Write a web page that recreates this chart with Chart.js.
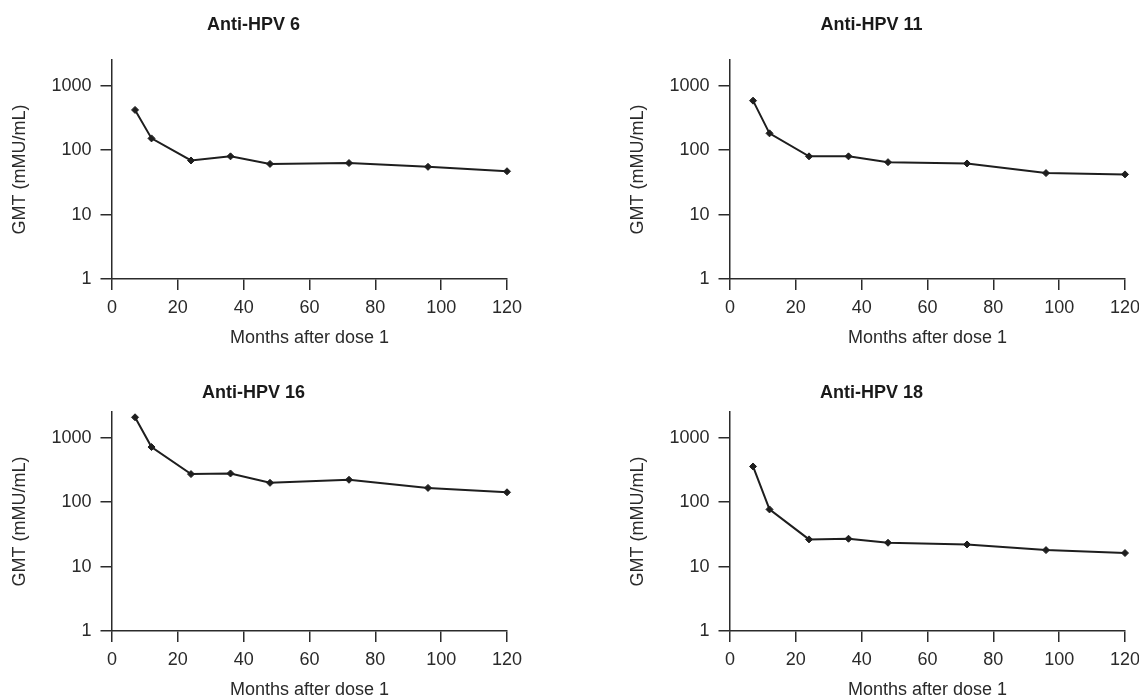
<!DOCTYPE html>
<html>
<head>
<meta charset="utf-8">
<script src="https://cdn.jsdelivr.net/npm/chart.js@4"></script>
<style>
    body { margin: 0; background: #fff; overflow: hidden; width: 1139px; height: 698px; position: relative; }
    canvas { position: absolute; }
</style>
</head>
<body>
<canvas id="hpv6" width="540" height="350" style="left:0px;top:0px"></canvas>
<canvas id="hpv11" width="540" height="350" style="left:618px;top:0px"></canvas>
<canvas id="hpv16" width="540" height="350" style="left:0px;top:352px"></canvas>
<canvas id="hpv18" width="540" height="350" style="left:618px;top:352px"></canvas>
<script>
const meses = [7, 12, 24, 36, 48, 72, 96, 120];
const gmtHpv6 = [420, 152, 69, 80, 61, 63, 55, 47];
const gmtHpv11 = [585, 182, 80, 80, 65, 62, 44, 42];
const gmtHpv16 = [2070, 715, 272, 278, 199, 222, 166, 142];
const gmtHpv18 = [357, 77, 26.4, 27, 23.4, 22, 18, 16.2];
const ticksY = [1, 10, 100, 1000];
const ticksX = [0, 20, 40, 60, 80, 100, 120];

const corEixo = '#2b2b2b';
const fonte = 'Arial, "Liberation Sans", sans-serif';

function criarGrafico(id, titulo, valores, tituloTopo) {
    const ctx = document.getElementById(id).getContext('2d');
    new Chart(ctx, {
        type: 'line',
        data: {
            datasets: [{
                data: meses.map((m, i) => ({ x: m, y: valores[i] })),
                borderColor: '#1e1e1e',
                backgroundColor: '#1e1e1e',
                borderWidth: 2,
                tension: 0,
                clip: false,
                pointStyle: 'rectRot',
                pointRadius: 3.5,
                pointBorderWidth: 1
            }]
        },
        options: {
            responsive: false,
            animation: false,
            devicePixelRatio: 1,
            layout: { padding: { left: 0, right: 33, top: 0, bottom: 0 } },
            plugins: {
                legend: { display: false },
                tooltip: { enabled: false },
                title: {
                    display: true,
                    text: titulo,
                    color: '#1a1a1a',
                    font: { family: fonte, size: 18, weight: 'bold', lineHeight: 1.2 },
                    padding: { top: tituloTopo, bottom: 60 - tituloTopo - 21.6 }
                }
            },
            scales: {
                x: {
                    type: 'linear',
                    min: 0,
                    max: 120,
                    afterBuildTicks: s => { s.ticks = ticksX.map(v => ({ value: v })); },
                    afterFit: s => { s.height = 71; },
                    grid: { drawOnChartArea: false, tickLength: 11, color: corEixo, lineWidth: 1.5 },
                    border: { display: true, color: corEixo, width: 1.5 },
                    ticks: { color: '#2a2a2a', padding: 7, maxRotation: 0, font: { family: fonte, size: 18 } },
                    title: {
                        display: true,
                        text: 'Months after dose 1',
                        color: '#2a2a2a',
                        font: { family: fonte, size: 18, lineHeight: 1.2 },
                        padding: { top: 0, bottom: 1.2 }
                    }
                },
                y: {
                    type: 'logarithmic',
                    min: 1,
                    max: 2500,
                    afterBuildTicks: s => { s.ticks = ticksY.map(v => ({ value: v })); },
                    afterFit: s => { s.width = 112; },
                    grid: { drawOnChartArea: false, tickLength: 11.5, color: corEixo, lineWidth: 1.5 },
                    border: { display: true, color: corEixo, width: 1.5 },
                    ticks: { color: '#2a2a2a', padding: 9, callback: v => String(v), font: { family: fonte, size: 18 } },
                    title: {
                        display: true,
                        text: 'GMT (mMU/mL)',
                        color: '#2a2a2a',
                        font: { family: fonte, size: 18, lineHeight: 1.2 },
                        padding: { top: 9.2, bottom: 0 }
                    }
                }
            }
        }
    });
}

// Quatro painéis, um por tipo de HPV
criarGrafico('hpv6', 'Anti-HPV 6', gmtHpv6, 14.2);
criarGrafico('hpv11', 'Anti-HPV 11', gmtHpv11, 14.2);
criarGrafico('hpv16', 'Anti-HPV 16', gmtHpv16, 30.2);
criarGrafico('hpv18', 'Anti-HPV 18', gmtHpv18, 30.2);
</script>
</body>
</html>
